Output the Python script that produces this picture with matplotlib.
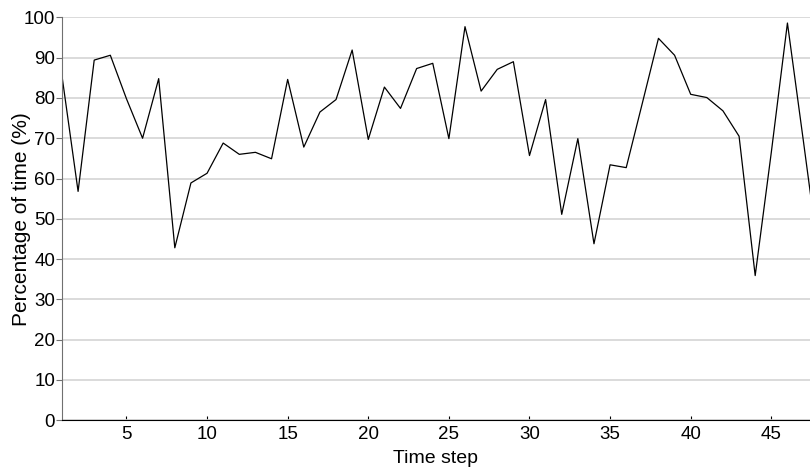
import matplotlib
matplotlib.use('Agg')
from matplotlib import pyplot as plt
import numpy as np

plt.rcParams['font.family'] = ['Liberation Sans', 'DejaVu Sans']

steps = np.arange(1, 49)
pct = [85.5, 56.8, 89.4, 90.6, 79.8, 70.0, 84.8, 42.8, 58.9, 61.3,
       68.8, 66.0, 66.5, 64.9, 84.6, 67.8, 76.5, 79.6, 91.9, 69.7,
       82.7, 77.4, 87.3, 88.6, 69.9, 97.7, 81.7, 87.1, 89.0, 65.7,
       79.6, 51.1, 69.9, 43.8, 63.4, 62.7, 78.7, 94.8, 90.6, 80.9,
       80.1, 76.8, 70.5, 35.9, 66.5, 98.6, 69.0, 39.0]

fig = plt.figure(figsize=(8.1, 4.7), dpi=100)
ax = fig.add_axes([0.0765, 0.106, 0.9235, 0.857])

ax.plot(steps, pct, color='black', linewidth=0.9)

ax.set_xlim(1, 47.4)
ax.set_ylim(0, 100)
ax.set_xticks([5, 10, 15, 20, 25, 30, 35, 40, 45])
ax.set_yticks(range(0, 101, 10))
ax.yaxis.grid(True, color='#d4d4d4', linewidth=1.2)
ax.set_axisbelow(True)

for s in ['top', 'right']:
    ax.spines[s].set_visible(False)
ax.spines['left'].set_color('#707070')
ax.spines['bottom'].set_color('black')
ax.tick_params(axis='y', direction='out', length=4, color='#707070', labelsize=13.5, pad=1)
ax.tick_params(axis='x', direction='in', length=3, labelsize=13.5, pad=4)

ax.set_xlabel('Time step', fontsize=14, labelpad=5)
ax.set_ylabel('Percentage of time (%)', fontsize=15, labelpad=-5)

fig.savefig('out.png', dpi=100)
